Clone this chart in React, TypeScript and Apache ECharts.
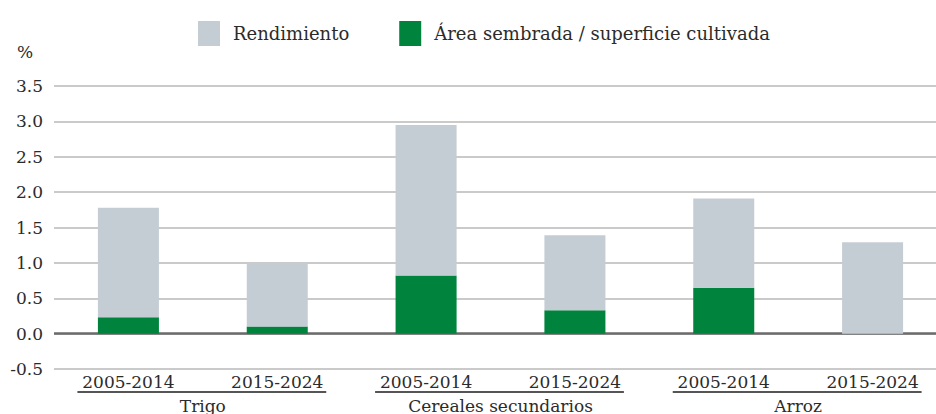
import React, { useEffect, useRef } from "react";
import * as echarts from "echarts";

const periods = ["2005-2014", "2015-2024", "2005-2014", "2015-2024", "2005-2014", "2015-2024"];
const groups = ["Trigo", "Cereales secundarios", "Arroz"];
const areaSembrada = [0.23, 0.1, 0.82, 0.33, 0.65, 0.0];
const rendimiento = [1.55, 0.89, 2.13, 1.06, 1.26, 1.29];
const yTicks = { min: -0.5, max: 3.5, interval: 0.5 };

const FONT = "'DejaVu Serif', 'Liberation Serif', serif";
const TEXT = "#2b2b2b";

export default function App() {
  const ref = useRef<HTMLDivElement>(null);
  useEffect(() => {
    if (!ref.current) return;
    const chart = echarts.init(ref.current, null, { renderer: "svg" });
    const pctText = {
      type: "text",
      left: 17,
      top: 43,
      style: { text: "%", fontFamily: FONT, fontSize: 17, fill: TEXT },
    };
    chart.setOption({
      animation: false,
      textStyle: { fontFamily: FONT },
      legend: {
        top: 16,
        left: 193,
        icon: "rect",
        itemWidth: 22,
        itemHeight: 25,
        itemGap: 50,
        textStyle: { fontFamily: FONT, fontSize: 18, color: TEXT, padding: [0, 0, 0, 8] },
        data: ["Rendimiento", "Área sembrada / superficie cultivada"],
      },
      grid: { left: 54, right: 0, top: 86, bottom: 45 },
      xAxis: [
        {
          type: "category",
          data: periods,
          position: "bottom",
          axisLine: { show: false, onZero: false },
          axisTick: { show: false },
          axisLabel: { fontFamily: FONT, fontSize: 17, color: TEXT, margin: 4 },
        },
        {
          type: "category",
          data: groups,
          position: "bottom",
          offset: 24,
          axisLine: { show: false, onZero: false },
          axisTick: { show: false },
          axisLabel: { fontFamily: FONT, fontSize: 17, color: TEXT, margin: 4 },
        },
      ],
      yAxis: {
        type: "value",
        min: yTicks.min,
        max: yTicks.max,
        interval: yTicks.interval,
        axisLine: { show: false },
        axisTick: { show: false },
        axisLabel: {
          fontFamily: FONT,
          fontSize: 17,
          color: TEXT,
          margin: 11,
          formatter: (v: number) => v.toFixed(1),
        },
        splitLine: { lineStyle: { color: "#b9b9b9", width: 1.5 } },
      },
      series: [
        {
          name: "zero",
          type: "line",
          data: [],
          z: 1,
          silent: true,
          markLine: {
            silent: true,
            z: 1,
            symbol: "none",
            label: { show: false },
            lineStyle: { color: "#6b6b6b", width: 2.5, type: "solid" },
            data: [{ yAxis: 0 }],
          },
        },
        {
          name: "Área sembrada / superficie cultivada",
          type: "bar",
          stack: "total",
          z: 3,
          data: areaSembrada,
          barWidth: "41%",
          itemStyle: { color: "#00843d" },
        },
        {
          name: "Rendimiento",
          type: "bar",
          stack: "total",
          z: 3,
          data: rendimiento,
          barWidth: "41%",
          itemStyle: { color: "#c5cdd4" },
        },
      ],
      graphic: [pctText],
    });

    const lines: any[] = [];
    for (let g = 0; g < groups.length; g++) {
      const a = chart.convertToPixel({ xAxisIndex: 0 }, g * 2) as number;
      const b = chart.convertToPixel({ xAxisIndex: 0 }, g * 2 + 1) as number;
      const y = 392;
      lines.push({
        type: "line",
        shape: { x1: a - 51, y1: y, x2: b + 49, y2: y },
        style: { stroke: "#555", lineWidth: 2 },
      });
    }
    chart.setOption({ graphic: [pctText, ...lines] }, { replaceMerge: ["graphic"] });

    return () => chart.dispose();
  }, []);
  return (
    <div
      style={{
        position: "fixed",
        left: 0,
        top: 0,
        width: 936,
        height: 414,
        overflow: "hidden",
        background: "#fff",
      }}
    >
      <div ref={ref} style={{ width: 947, height: 414 }} />
    </div>
  );
}
